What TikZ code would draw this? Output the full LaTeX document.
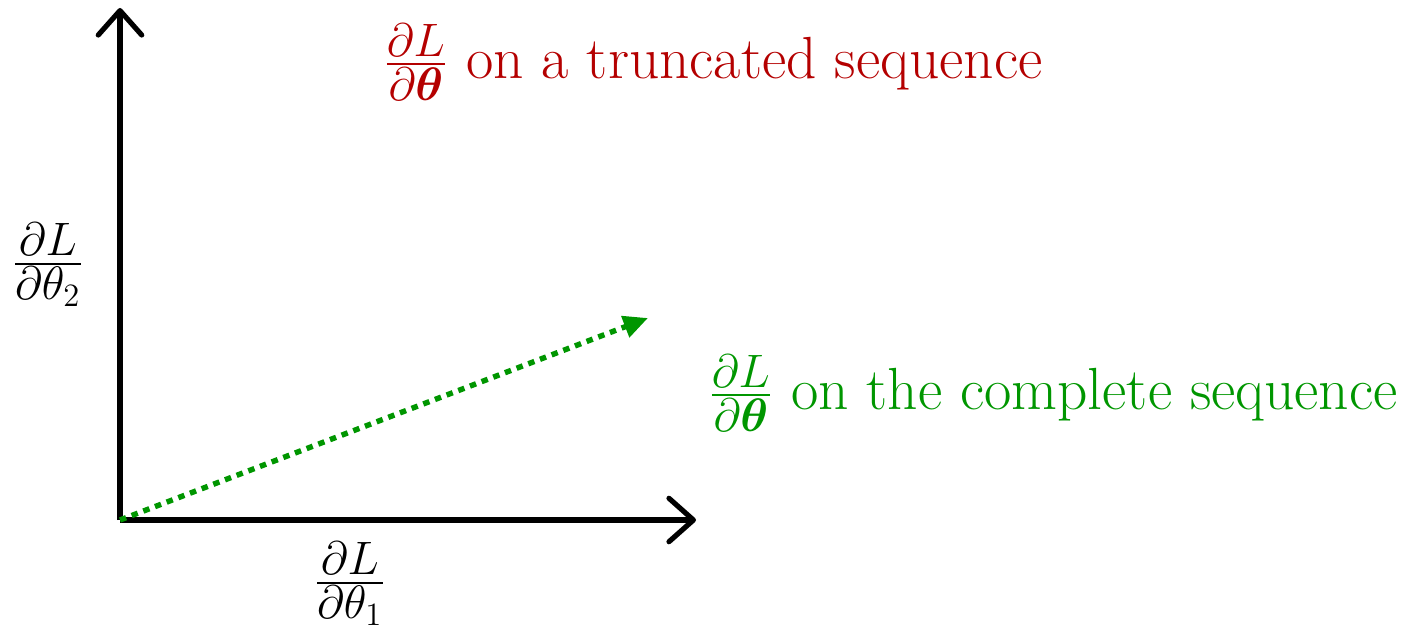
\documentclass[tikz,border=0pt]{standalone}
\usepackage{amsmath}
\usepackage{bm}
\usetikzlibrary{arrows.meta}
\DeclareMathSizes{21.9}{21.9}{17.5}{12.5}
\definecolor{myred}{RGB}{180,0,0}
\definecolor{mygreen}{RGB}{0,150,0}
\begin{document}
\begin{tikzpicture}[x=0.3683pt,y=-0.3683pt,
  axis/.style={line width=1.9pt,black,-{Straight Barb[length=9pt,width=16pt,line width=1.9pt,line cap=round,line join=round]}},
  grad/.style={line width=2pt,mygreen,dash pattern=on 2.4pt off 2.2pt,-{Triangle[length=9pt,width=8pt]}},
  lbl/.style={inner sep=0pt,font=\fontsize{21.9}{26}\selectfont}]
\useasboundingbox (0,0) rectangle (1414,627);
\coordinate (O) at (120,520);
\coordinate (Y) at (120,8);
\coordinate (X) at (696,520);
\coordinate (G) at (648,318);
\draw[axis] (O) -- (Y);
\draw[axis] (O) -- (X);
\draw[grad] (O) -- (G);
\node[lbl] (ly) at (48,265) {$\frac{\partial L}{\partial \theta_2}$};
\node[lbl] (lx) at (350,584) {$\frac{\partial L}{\partial \theta_1}$};
\node[lbl,text=myred,anchor=west] (tr) at (383,62) {$\frac{\partial L}{\partial \bm{\theta}}$ on a truncated sequence};
\node[lbl,text=mygreen,anchor=west] (co) at (708,393) {$\frac{\partial L}{\partial \bm{\theta}}$ on the complete sequence};
\end{tikzpicture}
\end{document}
